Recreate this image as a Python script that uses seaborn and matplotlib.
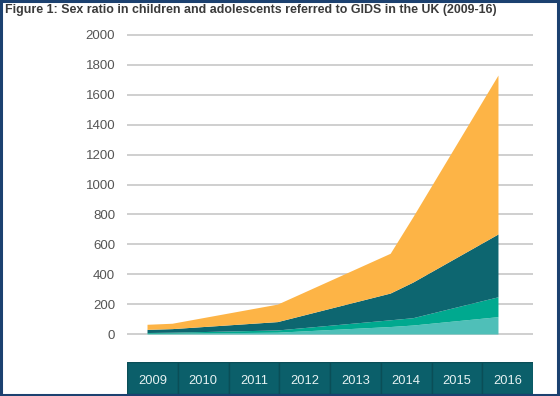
import numpy as np
import matplotlib
matplotlib.use("Agg")
import matplotlib.pyplot as plt
import seaborn as sns
from matplotlib.patches import Rectangle

# data (stack layers, bottom to top)
x_pos = [2009.0, 2009.5, 2011.6, 2013.85, 2014.3, 2016.0]
light_teal = [5, 6, 12, 50, 60, 116]
green = [5, 6, 15, 45, 49, 133]
dark_teal = [21, 24, 56, 179, 238, 420]
orange = [34, 36, 117, 266, 436, 1063]
years = [2009, 2010, 2011, 2012, 2013, 2014, 2015, 2016]
y_ticks = [0, 200, 400, 600, 800, 1000, 1200, 1400, 1600, 1800, 2000]
title = "Figure 1: Sex ratio in children and adolescents referred to GIDS in the UK (2009-16)"

colors = ["#4fbfb8", "#00a98f", "#0d6670", "#fdb446"]

sns.set_theme(style="white")
plt.rcParams['font.family'] = ['Liberation Sans', 'DejaVu Sans']

W, H = 560, 396
fig = plt.figure(figsize=(W / 100, H / 100), dpi=100)

# main area chart
ax = fig.add_axes([127 / W, (H - 335.5) / H, 406 / W, 302 / H])
ax.stackplot(x_pos, light_teal, green, dark_teal, orange, colors=colors, linewidth=0)
ax.set_xlim(2009 - 20 / 50.1, 2016 + 35 / 50.1)
ax.set_ylim(-10, 2010)
ax.set_yticks(y_ticks)
ax.set_yticklabels([str(v) for v in y_ticks])
ax.set_xticks([])
ax.yaxis.grid(True, color="#cfcfcf", linewidth=1.4)
ax.set_axisbelow(True)
for s in ax.spines.values():
    s.set_visible(False)
ax.tick_params(axis="y", length=0, pad=8.5, labelsize=9.5, labelcolor="#555555")

# year boxes underneath
axt = fig.add_axes([127 / W, 2 / H, 406 / W, 32 / H])
axt.bar(years, [1] * len(years), width=1, color="#0b5f6a", edgecolor="#0a4e57", linewidth=1)
for yr in years:
    axt.text(yr, 0.4, str(yr), ha="center", va="center", color="#e6f2f2", fontsize=9.3)
axt.set_xlim(years[0] - 0.5, years[-1] + 0.5)
axt.set_ylim(0, 1)
axt.axis("off")

fig.text(5 / W, 1 - 10 / H, title, ha="left", va="center", fontsize=8.9,
         fontweight="bold", color="#3b3b3b")

# navy frame around the whole figure
fig.patches.append(Rectangle((0.002, 0.003), 0.994, 0.994, transform=fig.transFigure,
                             fill=False, edgecolor="#1c4170", linewidth=2.2))

fig.savefig("out.png", dpi=100)
